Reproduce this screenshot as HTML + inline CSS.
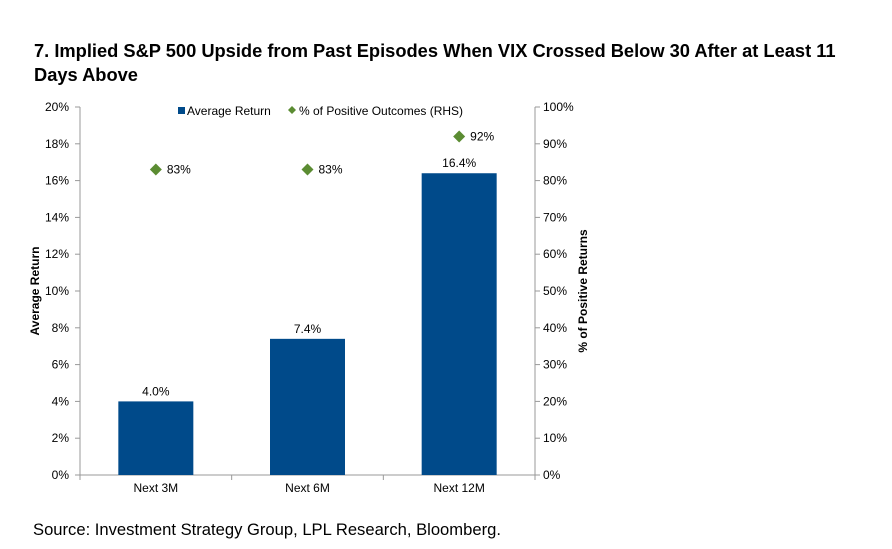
<!DOCTYPE html>
<html><head><meta charset="utf-8"><style>
body{margin:0;background:#fff;font-family:"Liberation Sans",Arial,sans-serif;}
#wrap{position:relative;width:892px;height:549px;overflow:hidden;}
#title{position:absolute;left:34px;top:39px;width:860px;font-size:18.3px;font-weight:bold;line-height:24px;color:#000;white-space:nowrap;}
#source{position:absolute;left:33px;top:520px;font-size:16.6px;color:#000;}
svg text{font-family:"Liberation Sans",Arial,sans-serif;}
</style></head><body>
<div id="wrap">
<div id="title">7. Implied S&amp;P 500 Upside from Past Episodes When VIX Crossed Below 30 After at Least 11<br>Days Above</div>
<svg id="chart" width="892" height="549" style="position:absolute;left:0;top:0"></svg>
<div id="source">Source: Investment Strategy Group, LPL Research, Bloomberg.</div>
</div>
<script>
const categories = ["Next 3M","Next 6M","Next 12M"];
const avgReturn = [4.0,7.4,16.4];
const positivePct = [83,83,92];
const leftTicks = [0,2,4,6,8,10,12,14,16,18,20];
const rightTicks = [0,10,20,30,40,50,60,70,80,90,100];

const NS="http://www.w3.org/2000/svg";
const svg=document.getElementById('chart');
const X0=80,X1=535,Y0=475,Y1=107;
const yL=v=>Y0-(v/20)*(Y0-Y1);
const yR=v=>Y0-(v/100)*(Y0-Y1);
const band=(X1-X0)/categories.length;
const xC=i=>X0+band*(i+0.5);
function mk(t,a,txt){const e=document.createElementNS(NS,t);for(const k in a)e.setAttribute(k,a[k]);if(txt!==undefined)e.textContent=txt;svg.appendChild(e);return e;}

let e;
e=mk('line',{x1:X0,y1:Y1,x2:X0,y2:Y0,stroke:'#999','stroke-width':1});


e=mk('line',{x1:X1,y1:Y1,x2:X1,y2:Y0,stroke:'#999','stroke-width':1});


e=mk('line',{x1:X0,y1:Y0,x2:X1,y2:Y0,stroke:'#999','stroke-width':1});



leftTicks.forEach(v=>{
  const y=yL(v);
  e=mk('line',{x1:X0-5,y1:y,x2:X0,y2:y,stroke:'#999'});
  
  
  e=mk('text',{x:X0-11,y:y+4,'text-anchor':'end','font-size':12,fill:'#000'},v+'%');
  
  
});
rightTicks.forEach(v=>{
  const y=yR(v);
  e=mk('line',{x1:X1,y1:y,x2:X1+5,y2:y,stroke:'#999'});
  
  
  e=mk('text',{x:X1+8,y:y+4,'font-size':12,fill:'#000'},v+'%');
  
  
});
for(let i=0;i<=categories.length;i++){
  e=mk('line',{x1:X0+band*i,y1:Y0,x2:X0+band*i,y2:Y0+5,stroke:'#999'});
  
  
}
const bw=75;
categories.forEach((c,i)=>{
  const x=xC(i);
  e=mk('rect',{x:x-bw/2,y:yL(avgReturn[i]),width:bw,height:Y0-yL(avgReturn[i]),fill:'#004a8a'});
  
  
  e=mk('text',{x:x,y:yL(avgReturn[i])-6,'text-anchor':'middle','font-size':12},avgReturn[i].toFixed(1)+'%');
  
  
  e=mk('text',{x:x,y:Y0+17,'text-anchor':'middle','font-size':12},c);
  
  
  const py=yR(positivePct[i]);
  e=mk('path',{d:`M${x} ${py-6}L${x+6} ${py}L${x} ${py+6}L${x-6} ${py}Z`,fill:'#5b8c32'});
  
  
  e=mk('text',{x:x+11,y:py+4,'font-size':12},positivePct[i]+'%');
  
  
});
e=mk('text',{transform:`translate(39,291) rotate(-90)`,'text-anchor':'middle','font-size':12,'font-weight':'bold'},'Average Return');


e=mk('text',{transform:`translate(587,291) rotate(-90)`,'text-anchor':'middle','font-size':12,'font-weight':'bold'},'% of Positive Returns');


e=mk('rect',{x:178,y:107,width:7,height:7,fill:'#004a8a'});


e=mk('text',{x:187,y:115,'font-size':12},'Average Return');


e=mk('path',{d:'M292 106L296 110L292 114L288 110Z',fill:'#5b8c32'});


e=mk('text',{x:299,y:115,'font-size':12},'% of Positive Outcomes (RHS)');


</script>
</body></html>
